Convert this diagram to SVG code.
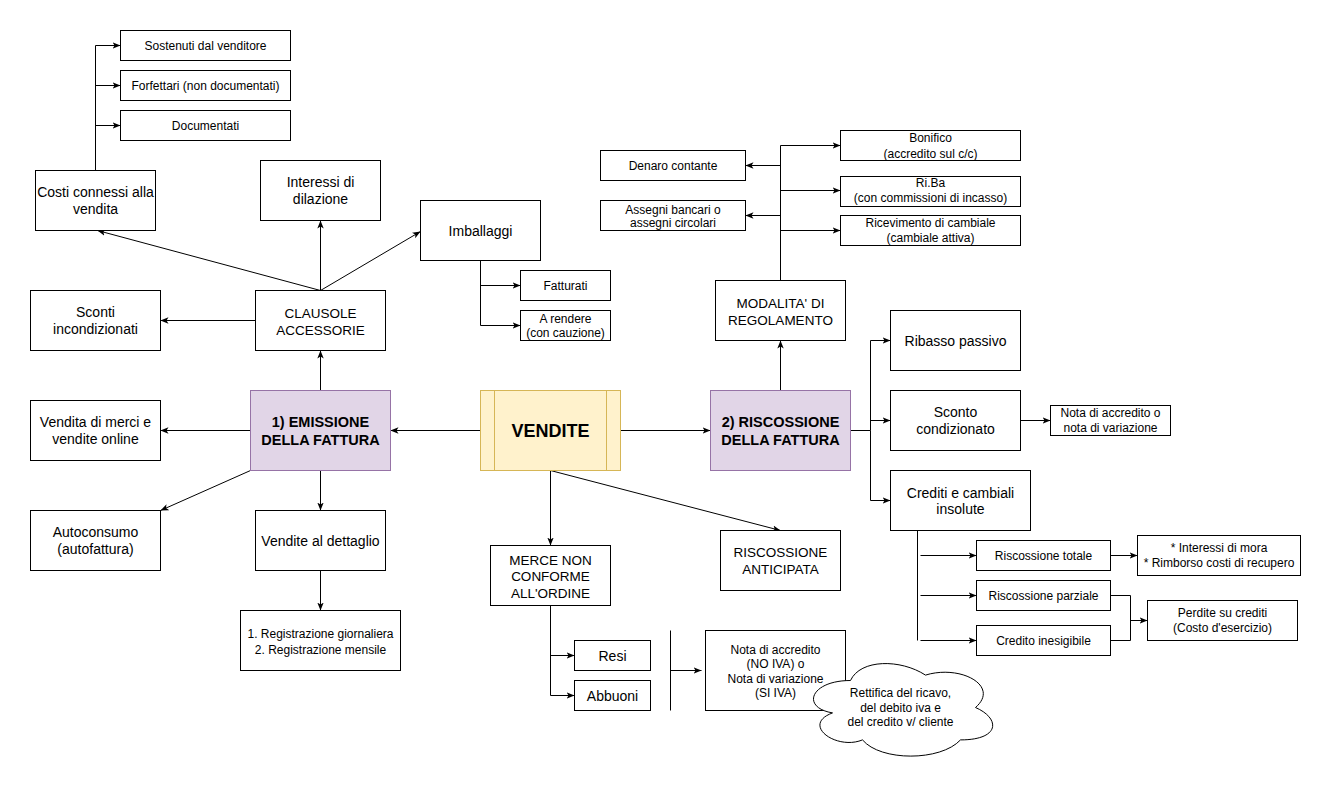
<svg xmlns="http://www.w3.org/2000/svg" width="1331" height="791" viewBox="0 0 1331 791">
  <defs>
    <marker id="arrow" viewBox="0 0 10 10" refX="10" refY="5" markerWidth="8" markerHeight="8" markerUnits="userSpaceOnUse" orient="auto">
      <path d="M0,1 L10,5 L0,9 L2.5,5 Z" fill="#000"/>
    </marker>
    <style>
      .box { fill: #ffffff; stroke: #000000; stroke-width: 1; }
      .phase { fill: #e1d5e7; stroke: #9673a6; stroke-width: 1; }
      .main { fill: #fff2cc; stroke: #d6b656; stroke-width: 1; }
      .line { fill: none; stroke: #000000; stroke-width: 1; }
      .arr { fill: none; stroke: #000000; stroke-width: 1; marker-end: url(#arrow); }
      text { font-family: "Liberation Sans", Arial, Helvetica, sans-serif; text-anchor: middle; fill: #000000; }
      .s12 { font-size: 12px; }
      .s13 { font-size: 13.5px; }
      .s14 { font-size: 14px; }
      .hd { font-size: 14.5px; font-weight: bold; }
      .big { font-size: 18px; font-weight: bold; }
    </style>
  </defs>
  <rect x="0" y="0" width="1331" height="791" fill="#ffffff"/>
  <g transform="translate(0.5,0.5)">
    <!-- connectors -->
    <g id="connectors">
      <!-- costs branch -->
      <path class="arr" d="M95,170 V45 H120"/>
      <path class="arr" d="M95,85 H120"/>
      <path class="arr" d="M95,125 H120"/>
      <!-- accessory clauses -->
      <path class="arr" d="M320,290 L97,230"/>
      <path class="arr" d="M320,290 V220"/>
      <path class="arr" d="M320,290 L420,231"/>
      <path class="arr" d="M255,320 H160"/>
      <!-- packaging -->
      <path class="arr" d="M480,260 V325 H520"/>
      <path class="arr" d="M480,285 H520"/>
      <!-- invoice issue -->
      <path class="arr" d="M320,390 V350"/>
      <path class="arr" d="M250,430 H160"/>
      <path class="arr" d="M250,470 L160,510"/>
      <path class="arr" d="M320,470 V510"/>
      <path class="arr" d="M320,570 V610"/>
      <!-- sales hub -->
      <path class="arr" d="M480,430 H390"/>
      <path class="arr" d="M620,430 H710"/>
      <path class="arr" d="M550,470 V545"/>
      <path class="arr" d="M550,470 L780,530"/>
      <!-- non-conforming goods -->
      <path class="arr" d="M550,605 V695 H574"/>
      <path class="arr" d="M550,655 H574"/>
      <path class="line" d="M670,630 V710"/>
      <path class="arr" d="M670,670 H701"/>
      <!-- payment methods -->
      <path class="arr" d="M780,390 V340"/>
      <path class="arr" d="M780,280 V145 H840"/>
      <path class="arr" d="M780,190 H840"/>
      <path class="arr" d="M780,230 H840"/>
      <path class="arr" d="M780,165 H745"/>
      <path class="arr" d="M780,215 H745"/>
      <!-- collection -->
      <path class="arr" d="M850,430 H870 V340 H890"/>
      <path class="arr" d="M870,430 V500 H890"/>
      <path class="arr" d="M870,420 H890"/>
      <path class="arr" d="M1020,420 H1050"/>
      <!-- unpaid credits -->
      <path class="line" d="M917,530 V640"/>
      <path class="arr" d="M920,555 H976"/>
      <path class="arr" d="M920,595 H976"/>
      <path class="arr" d="M920,640 H976"/>
      <path class="arr" d="M1110,555 H1137"/>
      <path class="line" d="M1110,595 H1130 V640 H1110"/>
      <path class="arr" d="M1130,620 H1147"/>
    </g>

    <g id="sostenuti"><rect class="box" x="120" y="30" width="170" height="30"/><text class="s12" x="205" y="49.2">Sostenuti dal venditore</text></g>
    <g id="forfettari"><rect class="box" x="120" y="70" width="170" height="30"/><text class="s12" x="205" y="89.2">Forfettari (non documentati)</text></g>
    <g id="documentati"><rect class="box" x="120" y="110" width="170" height="30"/><text class="s12" x="205" y="129.2">Documentati</text></g>
    <g id="costi"><rect class="box" x="35" y="170" width="120" height="60"/><text class="s14"><tspan x="95" y="196.5">Costi connessi alla</tspan><tspan x="95" y="213.5">vendita</tspan></text></g>
    <g id="interessi-dilazione"><rect class="box" x="260" y="160" width="120" height="60"/><text class="s14"><tspan x="320" y="186.5">Interessi di</tspan><tspan x="320" y="203.5">dilazione</tspan></text></g>
    <g id="imballaggi"><rect class="box" x="420" y="200" width="120" height="60"/><text class="s14" x="480" y="235">Imballaggi</text></g>
    <g id="fatturati"><rect class="box" x="520" y="270" width="90" height="30"/><text class="s12" x="565" y="289.2">Fatturati</text></g>
    <g id="a-rendere"><rect class="box" x="520" y="310" width="90" height="30"/><text class="s12"><tspan x="565" y="322">A rendere</tspan><tspan x="565" y="336">(con cauzione)</tspan></text></g>
    <g id="clausole"><rect class="box" x="255" y="290" width="130" height="60"/><text class="s13"><tspan x="320" y="317">CLAUSOLE</tspan><tspan x="320" y="334">ACCESSORIE</tspan></text></g>
    <g id="sconti"><rect class="box" x="30" y="290" width="130" height="60"/><text class="s14"><tspan x="95" y="316.5">Sconti</tspan><tspan x="95" y="333.5">incondizionati</tspan></text></g>
    <g id="emissione"><rect class="phase" x="250" y="390" width="140" height="80"/><text class="hd"><tspan x="320" y="426.5">1) EMISSIONE</tspan><tspan x="320" y="444.5">DELLA FATTURA</tspan></text></g>
    <g id="vendita-merci"><rect class="box" x="30" y="400" width="130" height="60"/><text class="s14"><tspan x="95" y="426.5">Vendita di merci e</tspan><tspan x="95" y="443.5">vendite online</tspan></text></g>
    <g id="autoconsumo"><rect class="box" x="30" y="510" width="130" height="60"/><text class="s14"><tspan x="95" y="536.5">Autoconsumo</tspan><tspan x="95" y="553.5">(autofattura)</tspan></text></g>
    <g id="dettaglio"><rect class="box" x="255" y="510" width="130" height="60"/><text class="s14" x="320" y="545">Vendite al dettaglio</text></g>
    <g id="registrazione"><rect class="box" x="240" y="610" width="160" height="60"/><text class="s12"><tspan x="320" y="637.5">1. Registrazione giornaliera</tspan><tspan x="320" y="653.5">2. Registrazione mensile</tspan></text></g>

    <g id="vendite"><rect class="main" x="480" y="390" width="140" height="80"/><path class="line" d="M494,390 V470 M606,390 V470" style="stroke:#d6b656"/><text class="big" x="550" y="436.3">VENDITE</text></g>

    <g id="riscossione"><rect class="phase" x="710" y="390" width="140" height="80"/><text class="hd"><tspan x="780" y="426.5">2) RISCOSSIONE</tspan><tspan x="780" y="444.5">DELLA FATTURA</tspan></text></g>
    <g id="modalita"><rect class="box" x="715" y="280" width="130" height="60"/><text class="s13"><tspan x="780" y="307.4">MODALITA' DI</tspan><tspan x="780" y="324">REGOLAMENTO</tspan></text></g>
    <g id="denaro"><rect class="box" x="600" y="150" width="145" height="30"/><text class="s12" x="672.5" y="169.2">Denaro contante</text></g>
    <g id="assegni"><rect class="box" x="600" y="200" width="145" height="30"/><text class="s12"><tspan x="672.5" y="213.2">Assegni bancari o</tspan><tspan x="672.5" y="226.5">assegni circolari</tspan></text></g>
    <g id="bonifico"><rect class="box" x="840" y="130" width="180" height="30"/><text class="s12"><tspan x="930" y="141.5">Bonifico</tspan><tspan x="930" y="157">(accredito sul c/c)</tspan></text></g>
    <g id="riba"><rect class="box" x="840" y="176" width="180" height="30"/><text class="s12"><tspan x="930" y="186">Ri.Ba</tspan><tspan x="930" y="201.5">(con commissioni di incasso)</tspan></text></g>
    <g id="cambiale"><rect class="box" x="840" y="215" width="180" height="30"/><text class="s12"><tspan x="930" y="226.5">Ricevimento di cambiale</tspan><tspan x="930" y="241.5">(cambiale attiva)</tspan></text></g>

    <g id="ribasso"><rect class="box" x="890" y="310" width="130" height="60"/><text class="s14" x="955" y="345">Ribasso passivo</text></g>
    <g id="sconto-condizionato"><rect class="box" x="890" y="390" width="130" height="60"/><text class="s14"><tspan x="955" y="416.6">Sconto</tspan><tspan x="955" y="433.3">condizionato</tspan></text></g>
    <g id="nota-accredito-sconto"><rect class="box" x="1050" y="405" width="120" height="30"/><text class="s12"><tspan x="1110" y="416.9">Nota di accredito o</tspan><tspan x="1110" y="431.5">nota di variazione</tspan></text></g>
    <g id="crediti"><rect class="box" x="890" y="470" width="140" height="60"/><text class="s14"><tspan x="960" y="497">Crediti e cambiali</tspan><tspan x="960" y="513.6">insolute</tspan></text></g>
    <g id="riscossione-totale"><rect class="box" x="976" y="540" width="134" height="30"/><text class="s12" x="1043" y="559.2">Riscossione totale</text></g>
    <g id="riscossione-parziale"><rect class="box" x="976" y="580" width="134" height="30"/><text class="s12" x="1043" y="599.2">Riscossione parziale</text></g>
    <g id="credito-inesigibile"><rect class="box" x="976" y="625" width="134" height="30"/><text class="s12" x="1043" y="644.2">Credito inesigibile</text></g>
    <g id="interessi-mora"><rect class="box" x="1137" y="535" width="163" height="40"/><text class="s12"><tspan x="1218.5" y="551.5">* Interessi di mora</tspan><tspan x="1218.5" y="566.5">* Rimborso costi di recupero</tspan></text></g>
    <g id="perdite"><rect class="box" x="1147" y="600" width="150" height="40"/><text class="s12"><tspan x="1222" y="616.5">Perdite su crediti</tspan><tspan x="1222" y="631.5">(Costo d'esercizio)</tspan></text></g>

    <g id="merce"><rect class="box" x="490" y="545" width="120" height="60"/><text class="s13"><tspan x="550" y="564">MERCE NON</tspan><tspan x="550" y="580.7">CONFORME</tspan><tspan x="550" y="597">ALL'ORDINE</tspan></text></g>
    <g id="anticipata"><rect class="box" x="720" y="530" width="120" height="60"/><text class="s13"><tspan x="780" y="556.4">RISCOSSIONE</tspan><tspan x="780" y="573.7">ANTICIPATA</tspan></text></g>
    <g id="resi"><rect class="box" x="574" y="640" width="76" height="30"/><text class="s14" x="612" y="660">Resi</text></g>
    <g id="abbuoni"><rect class="box" x="574" y="680" width="76" height="30"/><text class="s14" x="612" y="700">Abbuoni</text></g>
    <g id="nota-accredito"><rect class="box" x="705" y="630" width="140" height="80"/><text class="s12"><tspan x="775" y="653.2">Nota di accredito</tspan><tspan x="775" y="667.5">(NO IVA) o</tspan><tspan x="775" y="682">Nota di variazione</tspan><tspan x="775" y="696">(SI IVA)</tspan></text></g>
    <g id="rettifica">
      <path class="box" d="M850,680 C810,680 800,707 832,712.4 C800,724.3 836,750.2 862,739.4 C880,761 940,761 960,739.4 C1000,739.4 1000,717.8 975,707 C1000,685.4 960,663.8 925,674.6 C900,658.4 860,658.4 850,680 Z"/>
      <text class="s12"><tspan x="900" y="696">Rettifica del ricavo,</tspan><tspan x="900" y="711">del debito iva e</tspan><tspan x="900" y="725.2">del credito v/ cliente</tspan></text>
    </g>
  </g>
</svg>
